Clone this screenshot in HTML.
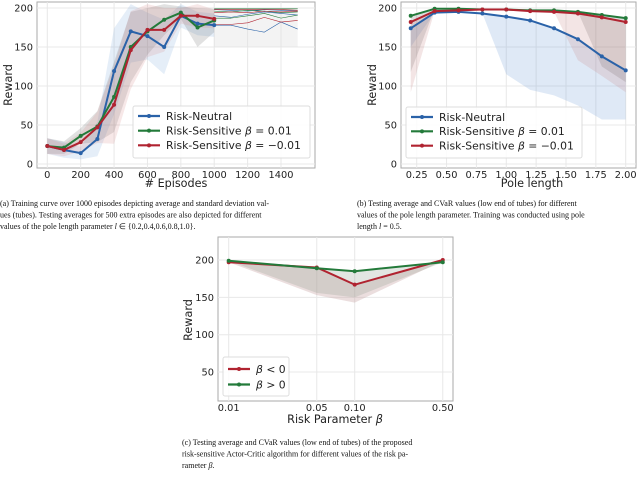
<!DOCTYPE html>
<html><head><meta charset="utf-8"><style>
body{margin:0;background:#fff;width:640px;height:486px;overflow:hidden}
svg{display:block}
.tk{font-family:"DejaVu Sans","Liberation Sans",sans-serif;font-size:9.8px;fill:#222}
.al{font-family:"DejaVu Sans","Liberation Sans",sans-serif;font-size:11.2px;fill:#222}
.lg{font-family:"DejaVu Sans","Liberation Sans",sans-serif;font-size:10.8px;fill:#222}
.cap{font-family:"Liberation Serif",serif;font-size:8px;fill:#111}
</style></head><body>
<svg id="s" width="640" height="486"></svg>
<script>
// ---- chart A data ----
const aEpisodes=[0,100,200,300,400,500,600,700,800,900,1000];
const aBlue=[23,18,14,32,119,170,164,150,190,180,178];
const aGreen=[23,21,36,48,86,150,170,185,194,175,184];
const aRed=[23,18,28,47,76,146,172,172,190,190,186];
const aBlueSd=[10,10,8,22,55,40,30,35,15,15,15];
const aGreenSd=[10,8,10,20,45,45,30,20,8,25,15];
const aRedSd=[10,8,12,20,50,50,35,28,10,15,12];
const aTestX=[1000,1100,1200,1300,1400,1500];
const aTestBlue=[[198,197,196,198,197,196],[190,188,192,195,193,191],[178,178,173,169,182,173]];
const aTestGreen=[[199,199,199,199,199,199],[196,195,197,196,194,195],[187,187,190,193,187,191]];
const aTestRed=[[198,198,198,198,198,197],[194,195,194,196,195,196],[179,179,181,188,182,184]];
const aXTicks=[0,200,400,600,800,1000,1200,1400];
const yTicks=[0,50,100,150,200];
// ---- chart B data ----
const bPole=[0.2,0.4,0.6,0.8,1.0,1.2,1.4,1.6,1.8,2.0];
const bBlue=[174,194,195,193,189,184,174,160,138,120];
const bGreen=[190,199,199,198,198,197,197,195,191,187];
const bRed=[182,196,197,198,198,196,195,193,188,182];
const bBlueLow=[150,194,195,193,115,95,88,75,57,57];
const bGreenLow=[118,199,199,198,198,197,197,195,125,105];
const bRedLow=[92,196,197,198,198,196,195,133,113,92];
const bXTicks=[0.25,0.5,0.75,1.0,1.25,1.5,1.75,2.0];
// ---- chart C data ----
const cBeta=[0.01,0.05,0.10,0.50];
const cRed=[197,190,167,200];
const cGreen=[199,189,185,197];
const cRedLow=[197,153,143,199];
const cGreenLow=[199,156,150,197];
const cYTicks=[50,100,150,200];

const NS="http://www.w3.org/2000/svg";
const svg=document.getElementById('s');
function mk(tag,at,parent){const e=document.createElementNS(NS,tag);for(const k in at)e.setAttribute(k,at[k]);(parent||svg).appendChild(e);return e;}
const BLUE="#2a62a8",GREEN="#237a3a",RED="#b02330";

const axA={x0:37,x1:315,y0:2,y1:168,sx:v=>47.3+v*0.16693,sy:v=>164-v*0.78};
const axB={x0:401,x1:636,y0:2,y1:168,sx:v=>416.7+(v-0.25)*119.43,sy:v=>164-v*0.78};
const axC={x0:218,x1:453,y0:237,y1:401,sx:v=>228.7+(Math.log10(v)+2)*126,sy:v=>260-(v-200)*0.747};

function frame(ax,name){
  const g=mk('g',{});
  
  
  mk('rect',{x:ax.x0,y:ax.y0,width:ax.x1-ax.x0,height:ax.y1-ax.y0,fill:'#fff',stroke:'#aaa','stroke-width':1},g);
  return g;
}
function grid(g,ax,xt,yt,xfmt,yfmt,nameX,nameY){
  xt.forEach(v=>{const x=ax.sx(v);
    const l=mk('line',{x1:x,x2:x,y1:ax.y0,y2:ax.y1,stroke:'#e8e8e8'},g);
    
    const t=mk('text',{x:x,y:ax.y1+10,'text-anchor':'middle',class:'tk'},g);t.textContent=xfmt(v);
    });
  yt.forEach(v=>{const y=ax.sy(v);
    const l=mk('line',{x1:ax.x0,x2:ax.x1,y1:y,y2:y,stroke:'#e8e8e8'},g);
    
    const t=mk('text',{x:ax.x0-4,y:y+3.5,'text-anchor':'end',class:'tk'},g);t.textContent=yfmt(v);
    });
}
function band(g,ax,xs,hi,lo,col,op,name){
  let d='M'+xs.map((x,i)=>ax.sx(x)+','+ax.sy(hi[i])).join('L');
  for(let i=xs.length-1;i>=0;i--)d+='L'+ax.sx(xs[i])+','+ax.sy(lo[i]);
  const p=mk('path',{d:d+'Z',fill:col,'fill-opacity':op,stroke:'none'},g);
  
}
function line(g,ax,xs,ys,col,w,name,markers){
  const p=mk('polyline',{points:xs.map((x,i)=>ax.sx(x)+','+ax.sy(ys[i])).join(' '),fill:'none',stroke:col,'stroke-width':w,'stroke-linejoin':'round'},g);
  
  if(markers)xs.forEach((x,i)=>{const c=mk('circle',{cx:ax.sx(x),cy:ax.sy(ys[i]),r:2,fill:col},g);
    });
}
function text(x,y,s,cls,name,rot,anchor){
  const t=mk('text',{x:x,y:y,class:cls,'text-anchor':anchor||'middle'});
  if(rot)t.setAttribute('transform','rotate(-90 '+x+' '+y+')');
  t.textContent=s;return t;
}
function legend(x,y,w,h,items,name){
  const g=mk('g',{});
  mk('rect',{x:x,y:y,width:w,height:h,fill:'#fff','fill-opacity':0.85,stroke:'#ddd',rx:2},g);
  items.forEach((it,i)=>{const yy=y+10+i*(h-8)/items.length+ (items.length==2?2:0);
    const l=mk('line',{x1:x+5,x2:x+27,y1:yy,y2:yy,stroke:it[1],'stroke-width':2.2},g);
    
    mk('circle',{cx:x+16,cy:yy,r:2,fill:it[1]},g);
    const t=mk('text',{x:x+33,y:yy+3.8,class:'lg'},g);t.innerHTML=it[0];
    });
}
const b='<tspan font-style="italic">β</tspan>';

// ===== Chart A =====
const gA=frame(axA,'chart-a-training');
grid(gA,axA,aXTicks,yTicks,v=>v,v=>v,'x-tick-label','y-tick-label');
band(gA,axA,aEpisodes,aBlue.map((v,i)=>Math.min(205,v+aBlueSd[i])),aBlue.map((v,i)=>v-aBlueSd[i]),'#6fa0d8',0.18,'blue-std-band');
band(gA,axA,aEpisodes,aGreen.map((v,i)=>Math.min(205,v+aGreenSd[i])),aGreen.map((v,i)=>v-aGreenSd[i]),'#5a5a5a',0.18,'green-std-band');
band(gA,axA,aEpisodes,aRed.map((v,i)=>Math.min(205,v+aRedSd[i])),aRed.map((v,i)=>v-aRedSd[i]),'#d88a8a',0.2,'red-std-band');
band(gA,axA,aTestX,[200,200,200,200,200,200],[150,150,150,150,150,150],'#dddddd',0.35,'test-band');
aTestBlue.forEach(s=>line(gA,axA,aTestX,s,BLUE,0.6,'test-blue-line',false));
aTestGreen.forEach(s=>line(gA,axA,aTestX,s,GREEN,0.6,'test-green-line',false));
aTestRed.forEach(s=>line(gA,axA,aTestX,s,RED,0.6,'test-red-line',false));
line(gA,axA,aEpisodes,aBlue,BLUE,2,'risk-neutral-line',true);
line(gA,axA,aEpisodes,aGreen,GREEN,2,'risk-sensitive-pos-line',true);
line(gA,axA,aEpisodes,aRed,RED,2,'risk-sensitive-neg-line',true);
text(176,187,'# Episodes','al','x-axis-title');
text(12,85,'Reward','al','y-axis-title',true);
legend(133,106,177,52,[['Risk-Neutral',BLUE],['Risk-Sensitive '+b+' = 0.01',GREEN],['Risk-Sensitive '+b+' = −0.01',RED]],'legend-a');

// ===== Chart B =====
const gB=frame(axB,'chart-b-pole-length');
grid(gB,axB,bXTicks,yTicks,v=>v.toFixed(2),v=>v,'x-tick-label','y-tick-label');
band(gB,axB,bPole,bBlue,bBlueLow,'#6f9bd4',0.22,'blue-cvar-band');
band(gB,axB,bPole,bGreen,bGreenLow,'#5a5a5a',0.2,'green-cvar-band');
band(gB,axB,bPole,bRed,bRedLow,'#c98a8a',0.22,'red-cvar-band');
line(gB,axB,bPole,bBlue,BLUE,2,'risk-neutral-line',true);
line(gB,axB,bPole,bGreen,GREEN,2,'risk-sensitive-pos-line',true);
line(gB,axB,bPole,bRed,RED,2,'risk-sensitive-neg-line',true);
text(532,187,'Pole length','al','x-axis-title');
text(376,85,'Reward','al','y-axis-title',true);
legend(406,107,176,51,[['Risk-Neutral',BLUE],['Risk-Sensitive '+b+' = 0.01',GREEN],['Risk-Sensitive '+b+' = −0.01',RED]],'legend-b');

// ===== Chart C =====
const gC=frame(axC,'chart-c-risk-parameter');
grid(gC,axC,cBeta,cYTicks,v=>v.toFixed(2),v=>v,'x-tick-label','y-tick-label');
band(gC,axC,cBeta,cRed,cRedLow,'#c7a0a0',0.35,'red-cvar-band');
band(gC,axC,cBeta,cGreen,cGreenLow,'#8a9a8a',0.25,'green-cvar-band');
line(gC,axC,cBeta,cRed,RED,2,'beta-negative-line',true);
line(gC,axC,cBeta,cGreen,GREEN,2,'beta-positive-line',true);
const xt=text(335,423,'','al','x-axis-title');xt.innerHTML='Risk Parameter '+b;
text(192,320,'Reward','al','y-axis-title',true);
legend(223,357,66,39,[[b+' &lt; 0',RED],[b+' &gt; 0',GREEN]],'legend-c');

// ===== captions =====
function cap(x,y,lines,name){lines.forEach((s,i)=>{const t=text(x,y+i*11.5,'','cap',name,false,'start');t.innerHTML=s;});}
cap(0,206,['(a) Training curve over 1000 episodes depicting average and standard deviation val-','ues (tubes). Testing averages for 500 extra episodes are also depicted for different','values of the pole length parameter <tspan font-style="italic">l</tspan> ∈ {0.2,0.4,0.6,0.8,1.0}.'],'caption-a');
cap(357,206,['(b) Testing average and CVaR values (low end of tubes) for different','values of the pole length parameter. Training was conducted using pole','length <tspan font-style="italic">l</tspan> = 0.5.'],'caption-b');
cap(182,445,['(c) Testing average and CVaR values (low end of tubes) of the proposed','risk-sensitive Actor-Critic algorithm for different values of the risk pa-','rameter <tspan font-style="italic">β</tspan>.'],'caption-c');
</script>
</body></html>
